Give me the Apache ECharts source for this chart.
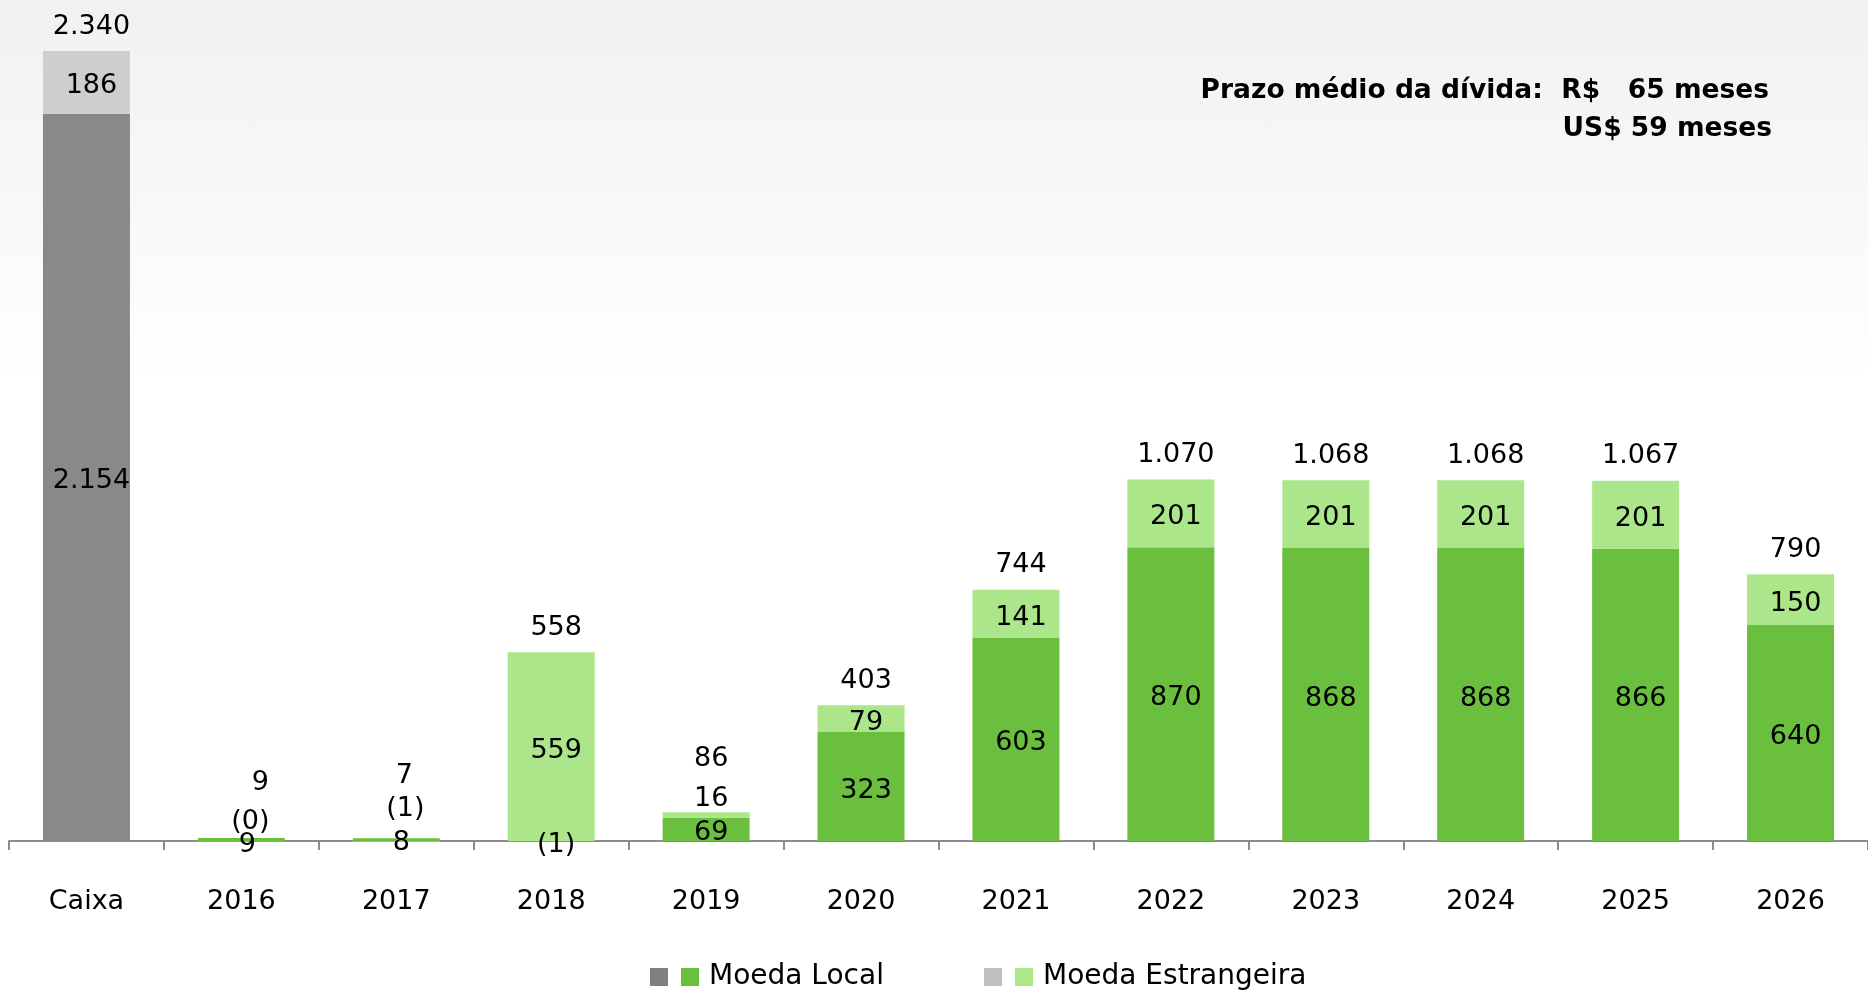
<!DOCTYPE html>
<html>
<head>
<meta charset="utf-8">
<script src="https://cdn.jsdelivr.net/npm/echarts@6/dist/echarts.min.js"></script>
<style>
  html, body { margin: 0; padding: 0; }
  body { background: linear-gradient(to bottom, #f1f1f1 0px, #f8f8f8 200px, #ffffff 380px, #ffffff 100%); }
  #main { width: 1868px; height: 992px; }
</style>
</head>
<body>
<div id="main"></div>
<script>
// categorias e valores (R$ milhões)
var categories = ['Caixa', '2016', '2017', '2018', '2019', '2020', '2021', '2022', '2023', '2024', '2025', '2026'];
var caixaLocal = [2154, '-', '-', '-', '-', '-', '-', '-', '-', '-', '-', '-'];
var caixaEstrangeira = [186, '-', '-', '-', '-', '-', '-', '-', '-', '-', '-', '-'];
var moedaLocal = ['-', 9, 8, -1, 69, 323, 603, 870, 868, 868, 866, 640];
var moedaEstrangeira = ['-', -0.3, -1, 559, 16, 79, 141, 201, 201, 201, 201, 150];
var totais = [2340, 9, 7, 558, 86, 403, 744, 1070, 1068, 1068, 1067, 790];

var FONT = 'DejaVu Sans';

function fmt(v) {
  var s = String(Math.round(Math.abs(v))).replace(/\B(?=(\d{3})+(?!\d))/g, '.');
  return v < 0 ? '(' + s + ')' : s;
}

// ajustes manuais dos rótulos das barras muito pequenas
var localShift = { 1: [6, 5], 2: [5, 3], 3: [5, 4] };
var estrShift = { 1: [9, -19], 2: [9, -32], 4: [5, -16] };
var totalShift = { 1: [19, -28], 2: [8, -35], 4: [5, -26] };

function withLabels(values, shifts, def) {
  return values.map(function (v, i) {
    if (v === '-') return v;
    var off = shifts[i] || def;
    return { value: v, label: { offset: off } };
  });
}

var labelStyle = {
  show: true,
  position: 'inside',
  color: '#000',
  fontFamily: FONT,
  fontSize: 27,
  formatter: function (p) { return fmt(p.value); }
};

var legendText = { fontFamily: FONT, fontSize: 28, color: '#000', padding: [0, 0, 0, 5] };
function legendFormatter(name) { return name.indexOf('Caixa') === 0 ? '' : name; }

var chart = echarts.init(document.getElementById('main'));

var option = {
  backgroundColor: 'transparent',
  animation: false,
  graphic: [
    {
      type: 'text',
      x: 1769,
      y: 91,
      style: {
        text: 'Prazo médio da dívida:  R$   65 meses',
        align: 'right',
        verticalAlign: 'middle',
        font: 'bold 26.5px "DejaVu Sans"',
        fill: '#000'
      }
    },
    {
      type: 'text',
      x: 1772,
      y: 129,
      style: {
        text: 'US$ 59 meses',
        align: 'right',
        verticalAlign: 'middle',
        font: 'bold 26.5px "DejaVu Sans"',
        fill: '#000'
      }
    }
  ],
  legend: [
    {
      left: 650,
      top: 963,
      padding: 0,
      itemWidth: 18,
      itemHeight: 18,
      itemGap: 13,
      icon: 'rect',
      selectedMode: false,
      data: [
        { name: 'Caixa Local', itemStyle: { color: '#808080' } },
        { name: 'Moeda Local', itemStyle: { color: '#6abf3c' } }
      ],
      formatter: legendFormatter,
      textStyle: legendText
    },
    {
      left: 984,
      top: 963,
      padding: 0,
      itemWidth: 18,
      itemHeight: 18,
      itemGap: 13,
      icon: 'rect',
      selectedMode: false,
      data: [
        { name: 'Caixa Estrangeira', itemStyle: { color: '#bfbfbf' } },
        { name: 'Moeda Estrangeira', itemStyle: { color: '#ace78a' } }
      ],
      formatter: legendFormatter,
      textStyle: legendText
    }
  ],
  grid: {
    left: 9,
    width: 1865,
    top: 30.8,
    bottom: 144.2,
    containLabel: false
  },
  xAxis: {
    type: 'category',
    data: categories,
    axisLine: { onZero: true, lineStyle: { color: '#8c8c8c', width: 2 } },
    axisTick: { show: true, length: 9, lineStyle: { color: '#8c8c8c', width: 2 } },
    axisLabel: { color: '#000', fontFamily: FONT, fontSize: 27, margin: 41 },
    splitLine: { show: false }
  },
  yAxis: {
    type: 'value',
    min: -20,
    max: 2400,
    show: false,
    splitLine: { show: false }
  },
  series: [
    {
      name: 'Caixa Local',
      type: 'bar',
      stack: 'total',
      barWidth: 87,
      itemStyle: { color: '#898989' },
      label: labelStyle,
      data: withLabels(caixaLocal, {}, [5, 4])
    },
    {
      name: 'Caixa Estrangeira',
      type: 'bar',
      stack: 'total',
      barWidth: 87,
      itemStyle: { color: '#cecece' },
      label: labelStyle,
      data: withLabels(caixaEstrangeira, {}, [5, 4])
    },
    {
      name: 'Moeda Local',
      type: 'bar',
      stack: 'total',
      barWidth: 87,
      itemStyle: { color: '#6bbf3e' },
      label: labelStyle,
      data: withLabels(moedaLocal, localShift, [5, 4])
    },
    {
      name: 'Moeda Estrangeira',
      type: 'bar',
      stack: 'total',
      barWidth: 87,
      itemStyle: { color: '#abe68a' },
      label: labelStyle,
      data: withLabels(moedaEstrangeira, estrShift, [5, 4])
    },
    {
      name: 'Total',
      type: 'scatter',
      symbolSize: 0,
      z: 5,
      itemStyle: { opacity: 1 },
      label: {
        show: true,
        position: 'top',
        distance: 14,
        color: '#000',
        fontFamily: FONT,
        fontSize: 27,
        formatter: function (p) { return fmt(p.value); }
      },
      data: withLabels(totais, totalShift, [5, 3])
    }
  ]
};

chart.setOption(option);
</script>
</body>
</html>
